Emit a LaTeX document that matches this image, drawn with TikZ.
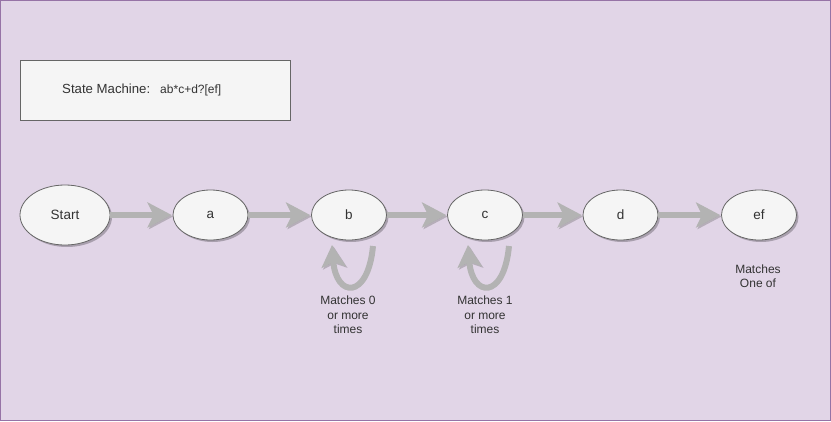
\documentclass[tikz,border=0pt]{standalone}
\usepackage{fontspec}
\setmainfont{Liberation Sans}
\usetikzlibrary{shapes.geometric,arrows.meta,shadows}
\definecolor{bgc}{HTML}{E1D5E7}
\definecolor{bdc}{HTML}{9673A6}
\definecolor{nodefill}{HTML}{F5F5F5}
\definecolor{nodeline}{HTML}{666666}
\definecolor{txt}{HTML}{333333}
\definecolor{arr}{HTML}{B3B3B3}
\tikzset{
  x=1pt,y=-1pt,
  state/.style={ellipse, draw=nodeline, fill=nodefill, line width=0.8pt, inner sep=0pt,
    text=txt, font=\fontsize{13.5}{16}\selectfont,
    drop shadow={shadow xshift=2pt, shadow yshift=-2pt, opacity=0.25, fill=black}},
  arrshadow/.style={preaction={draw=black!60, opacity=0.35, transform canvas={shift={(1.5pt,-1.5pt)}}}},
  flow/.style={arrshadow, draw=arr, line width=6pt, -{Stealth[length=24pt,width=25pt,inset=6pt]}, shorten >=1pt},
  loopar/.style={arrshadow, draw=arr, line width=6pt, -{Stealth[length=22pt,width=24pt,inset=5pt]}},
  note/.style={text=txt, font=\fontsize{12}{14.4}\selectfont, align=center, inner sep=0pt},
}
\begin{document}
\begin{tikzpicture}
\useasboundingbox (0,0) rectangle (831,421);
\fill[bgc] (0,0) rectangle (831,421);
\draw[bdc, line width=1pt] (0.5,0.5) rectangle (830.5,420.5);
% title box
\node[draw=nodeline, fill=nodefill, line width=0.8pt, minimum width=270pt, minimum height=60pt, inner sep=0pt] (title) at (155,90) {};
\node[note, anchor=west] (titletext) at (62,90) {{\fontsize{13.2}{16}\selectfont State Machine:}\hspace{10pt}ab*c+d?[ef]};
% states
\node[state, minimum width=90pt, minimum height=60pt] (start) at (65,215) {Start};
\node[state, minimum width=75pt, minimum height=50pt] (a) at (210.5,215) {a};
\node[state, minimum width=75pt, minimum height=50pt] (b) at (349,215) {b};
\node[state, minimum width=75pt, minimum height=50pt] (c) at (485,215) {c};
\node[state, minimum width=75pt, minimum height=50pt] (d) at (620.5,215) {d};
\node[state, minimum width=75pt, minimum height=50pt] (ef) at (759,215) {ef};
% arrows
\draw[flow] (start) -- (a);
\draw[flow] (a) -- (b);
\draw[flow] (b) -- (c);
\draw[flow] (c) -- (d);
\draw[flow] (d) -- (ef);
% self loops
\coordinate (bs) at (373,246);
\coordinate (be) at (332,245);
\draw[loopar] (bs) .. controls (368,300) and (336,298) .. (be);
\coordinate (cs) at (509,246);
\coordinate (ce) at (468,245);
\draw[loopar] (cs) .. controls (504,300) and (472,298) .. (ce);
% labels
\node[note] (lb) at (348,315) {Matches 0\\or more\\times};
\node[note] (lc) at (485,315) {Matches 1\\or more\\times};
\node[note] (lef) at (758,276) {Matches\\One of};
\end{tikzpicture}
\end{document}
